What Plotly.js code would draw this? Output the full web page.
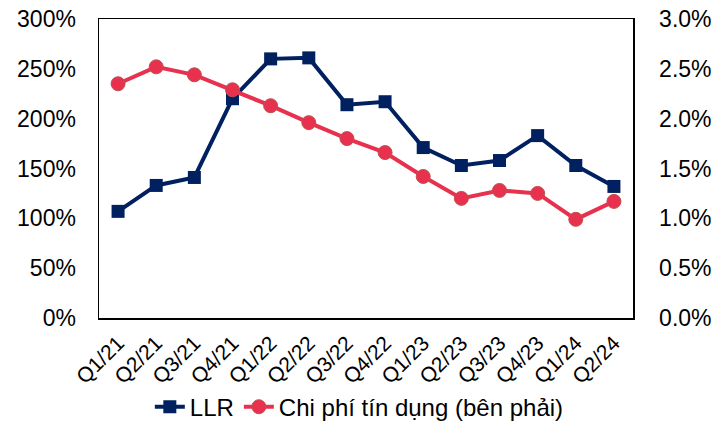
<!DOCTYPE html>
<html>
<head>
<meta charset="utf-8">
<script src="https://cdn.plot.ly/plotly-3.0.1.min.js"></script>
<style>html,body{margin:0;padding:0;background:#fff;}#chart{width:723px;height:421px;}</style>
</head>
<body>
<div id="chart"></div>
<script>
const quarters = ["Q1/21","Q2/21","Q3/21","Q4/21","Q1/22","Q2/22","Q3/22","Q4/22","Q1/23","Q2/23","Q3/23","Q4/23","Q1/24","Q2/24"];
const llr = [1.07,1.33,1.41,2.20,2.60,2.61,2.14,2.17,1.71,1.53,1.58,1.83,1.53,1.32];
const creditCost = [0.0235,0.0252,0.0244,0.0229,0.0213,0.0196,0.0180,0.0166,0.0142,0.0120,0.0128,0.0125,0.0099,0.0117];
const llrName = "LLR";
const costName = "Chi phí tín dụng (bên phải)";

const font = {family: "Liberation Sans, Arial, sans-serif", color: "#000", size: 22};

const traces = [
  {x: quarters, y: llr, name: llrName, type: "scatter", mode: "lines+markers",
   line: {color: "#002060", width: 4},
   marker: {symbol: "square", size: 13, color: "#002060"}, yaxis: "y"},
  {x: quarters, y: creditCost, name: costName, type: "scatter", mode: "lines+markers",
   line: {color: "#E8304F", width: 4},
   marker: {symbol: "circle", size: 14, color: "#E8304F", line: {color: "#C0504D", width: 1}}, yaxis: "y2"}
];

const layout = {
  width: 723, height: 421,
  margin: {l: 99, r: 90, t: 19, b: 103, autoexpand: false},
  paper_bgcolor: "#fff", plot_bgcolor: "#fff",
  font: font,
  showlegend: true,
  legend: {orientation: "h", xref: "container", yref: "container", x: 0.497, xanchor: "center", y: 0.033, yanchor: "middle",
           font: {size: 24}, tracegroupgap: 0, bgcolor: "rgba(0,0,0,0)"},
  xaxis: {type: "category", tickangle: -45, showline: true, mirror: true, linecolor: "#000", linewidth: 1.5,
          showgrid: false, ticks: "", tickfont: {size: 21}, ticklabelstandoff: 3, range: [-0.5, 13.5], automargin: false},
  yaxis: {range: [0, 3], dtick: 0.5, tickformat: ".0%", showgrid: false, zeroline: false, automargin: false,
          showline: true, linecolor: "#000", linewidth: 1.5, ticks: "", ticklabelstandoff: 17, tickfont: {size: 23}},
  yaxis2: {range: [0, 0.03], dtick: 0.005, tickformat: ".1%", overlaying: "y", side: "right", showgrid: false, automargin: false,
           zeroline: false, showline: true, linecolor: "#000", linewidth: 1.5, ticks: "", ticklabelstandoff: 20, tickfont: {size: 23}}
};

Plotly.newPlot("chart", traces, layout, {displayModeBar: false, staticPlot: true});
</script>
</body>
</html>
